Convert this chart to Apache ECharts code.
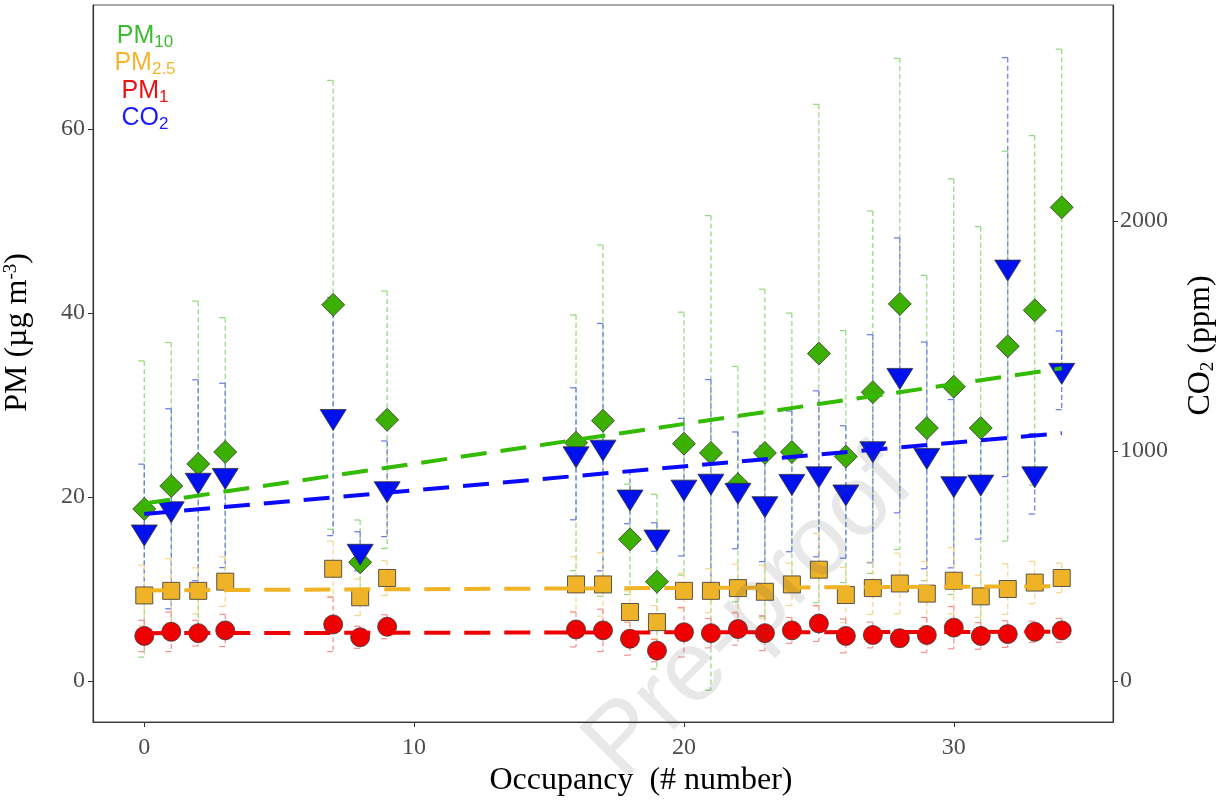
<!DOCTYPE html>
<html>
<head>
<meta charset="utf-8">
<script src="https://cdn.jsdelivr.net/npm/echarts@6/dist/echarts.min.js"></script>
<style>
html,body{margin:0;padding:0;background:#fff;}
#chart{width:1217px;height:801px;}
</style>
</head>
<body>
<div id="chart"></div>
<script>
// ---- data ----
const occupancy = [0,1,2,3,7,8,9,16,17,18,19,20,21,22,23,24,25,26,27,28,29,30,31,32,33,34];
const pm10   = [18.7,21.2,23.6,24.9,40.9,12.9,28.4,25.9,28.3,15.4,10.8,25.8,24.8,21.4,24.8,24.9,35.6,24.4,31.4,41.0,27.5,32.0,27.5,36.4,40.3,51.5];
const pm10Sd = [16.1,15.6,17.7,14.6,24.4,4.6,14.0,13.9,19.1,6.0,9.5,14.3,25.8,12.8,17.8,15.1,27.1,13.7,19.7,26.7,16.6,22.6,21.9,21.2,19.0,17.2];
const pm25   = [9.3,9.8,9.8,10.8,12.2,9.1,11.2,10.5,10.5,7.5,6.4,9.8,9.8,10.1,9.7,10.5,12.1,9.35,10.1,10.6,9.5,10.9,9.2,10.0,10.7,11.2];
const pm25Sd = [3.3,3.5,2.5,2.7,3.0,2.0,1.9,3.0,3.45,2.3,1.8,1.9,2.4,2.6,2.9,2.3,3.95,3.0,2.85,3.3,3.5,3.6,2.3,2.75,2.3,1.6];
const pm1    = [4.9,5.35,5.2,5.5,6.15,4.75,5.9,5.6,5.5,4.6,3.3,5.3,5.2,5.65,5.2,5.5,6.25,4.9,5.0,4.65,5.0,5.8,4.9,5.1,5.35,5.5];
const pm1Sd  = [1.7,2.15,1.4,1.75,2.95,1.2,1.3,1.9,2.3,1.8,1.2,2.7,1.6,1.75,1.9,1.4,1.95,1.85,1.4,0.95,1.9,2.3,1.45,1.45,1.15,1.3];
const co2    = [648,749,873,894,1150,564,836,988,1017,800,626,843,869,829,771,868,901,822,1010,1329,981,858,865,1800,901,1351];
const co2Sd  = [295,435,437,401,518,85,208,287,538,116,62,299,442,254,252,306,361,288,496,598,493,366,248,911,175,171];

// fitted trend lines (end values)
const trendX    = [0, 34];
const pm10Trend = [19.3, 34.0];
const pm25Trend = [9.85, 10.3];
const pm1Trend  = [5.2, 5.35];
const co2Trend  = [726, 1078];

// tick labels
const xTicks   = [0, 10, 20, 30];
const pmTicks  = [0, 20, 40, 60];
const co2Ticks = [0, 1000, 2000];

// ---- chart ----
const serif = 'Liberation Serif';
const sans = 'Liberation Sans';
const C = {
  pm10: '#3cb000', pm10Line: '#33bb00', pm10Err: '#8fd97a', pm10Txt: '#3dbb33',
  pm25: '#efb32a', pm25Line: '#f0b323', pm25Err: '#f6d58a', pm25Txt: '#f3b52e',
  pm1:  '#ee0000', pm1Line:  '#ee0000', pm1Err:  '#f39090', pm1Txt:  '#ee1111',
  co2:  '#0011ee', co2Line:  '#0a0aff', co2Err:  '#6677ee', co2Txt:  '#1a1aff'
};

function errData(mean, sd) {
  return occupancy.map((x, i) => [x, mean[i] - sd[i], mean[i] + sd[i]]);
}
function errSeries(mean, sd, color, yIdx) {
  return {
    type: 'custom', yAxisIndex: yIdx, z: 2, silent: true,
    data: errData(mean, sd),
    encode: { x: 0, y: [1, 2] },
    renderItem: function (params, api) {
      const x = api.value(0);
      const lo = api.coord([x, api.value(1)]);
      const hi = api.coord([x, api.value(2)]);
      const st = { stroke: color, lineWidth: 1.2 };
      return {
        type: 'group',
        children: [
          { type: 'line', shape: { x1: hi[0], y1: hi[1], x2: lo[0], y2: lo[1] },
            style: Object.assign({ lineDash: [5, 3] }, st) },
          { type: 'line', shape: { x1: hi[0] - 6, y1: hi[1], x2: hi[0], y2: hi[1] }, style: st },
          { type: 'line', shape: { x1: lo[0] - 6, y1: lo[1], x2: lo[0], y2: lo[1] }, style: st }
        ]
      };
    }
  };
}
function pts(mean) { return occupancy.map((x, i) => [x, mean[i]]); }
function trend(vals) { return trendX.map((x, i) => [x, vals[i]]); }
function trendSeries(vals, color, yIdx) {
  return {
    type: 'line', yAxisIndex: yIdx, data: trend(vals), showSymbol: false, symbol: 'none',
    z: 6, silent: true,
    lineStyle: { color: color, width: 4, type: [26, 14] }
  };
}
const markerBorder = { borderColor: '#333', borderWidth: 0.8 };

const chart = echarts.init(document.getElementById('chart'), null, { renderer: 'canvas' });

function legendText(base, sub, color, y) {
  return {
    type: 'text', x: 145, y: y, z: 100,
    style: {
      text: '{b|' + base + '}{s|' + sub + '}',
      align: 'center', verticalAlign: 'middle',
      rich: {
        b: { fontFamily: sans, fontSize: 25, lineHeight: 30, verticalAlign: 'top', fill: color },
        s: { fontFamily: sans, fontSize: 17, lineHeight: 30, verticalAlign: 'top', padding: [10, 0, 0, 0], fill: color }
      }
    }
  };
}
const noSep = function (v) { return String(v); };

const option = {
  animation: false,
  backgroundColor: '#ffffff',
  grid: { left: 93, right: 104, top: 5, bottom: 79, outerBoundsMode: 'none', containLabel: false,
          show: true, borderColor: '#555', borderWidth: 1, backgroundColor: 'transparent' },
  xAxis: {
    type: 'value', min: -1.9, max: 35.9,
    name: 'Occupancy  (# number)', nameLocation: 'middle', nameGap: 42,
    nameTextStyle: { fontFamily: serif, fontSize: 32, color: '#000', padding: [0, 0, 0, 76] },
    axisLine: { show: true, onZero: false, lineStyle: { color: '#333', width: 1.2 } },
    axisTick: { show: true, length: 5, customValues: xTicks, lineStyle: { color: '#333' } },
    axisLabel: { customValues: xTicks, formatter: noSep, fontFamily: serif, fontSize: 24, color: '#4d4d4d', margin: 14 },
    splitLine: { show: false }
  },
  yAxis: [
    {
      type: 'value', min: -4.46, max: 73.5, position: 'left',
      name: '{a|PM (µg m}{p|-3}{a|)}', nameLocation: 'middle', nameGap: 57, nameRotate: 90,
      nameTextStyle: {
        padding: [0, 0, 0, 62],
        rich: {
          a: { fontFamily: serif, fontSize: 32, color: '#000', lineHeight: 34, verticalAlign: 'top' },
          p: { fontFamily: serif, fontSize: 19, color: '#000', lineHeight: 16, verticalAlign: 'top' }
        }
      },
      axisLine: { show: true, onZero: false, lineStyle: { color: '#333', width: 1.2 } },
      axisTick: { show: true, length: 5, customValues: pmTicks, lineStyle: { color: '#333' } },
      axisLabel: { customValues: pmTicks, formatter: noSep, fontFamily: serif, fontSize: 24, color: '#4d4d4d', margin: 8 },
      splitLine: { show: false }
    },
    {
      type: 'value', min: -178.4, max: 2940, position: 'right',
      name: '{a|CO}{s|2}{a| (ppm)}', nameLocation: 'middle', nameGap: 72, nameRotate: 90,
      nameTextStyle: {
        padding: [0, 0, 0, 36],
        rich: {
          a: { fontFamily: serif, fontSize: 32, color: '#000', lineHeight: 36, verticalAlign: 'top' },
          s: { fontFamily: serif, fontSize: 19, color: '#000', lineHeight: 36, verticalAlign: 'top', padding: [14, 0, 0, 0] }
        }
      },
      axisLine: { show: true, onZero: false, lineStyle: { color: '#333', width: 1.2 } },
      axisTick: { show: true, length: 5, customValues: co2Ticks, lineStyle: { color: '#333' } },
      axisLabel: { customValues: co2Ticks, formatter: noSep, fontFamily: serif, fontSize: 24, color: '#4d4d4d', margin: 7 },
      splitLine: { show: false }
    }
  ],
  graphic: [
    legendText('PM', '10', C.pm10Txt, 38.5),
    legendText('PM', '2.5', C.pm25Txt, 65.5),
    legendText('PM', '1', C.pm1Txt, 93.5),
    legendText('CO', '2', C.co2Txt, 120.5),
    {
      type: 'text', x: 750, y: 615, rotation: Math.PI / 4, z: 200, silent: true,
      style: { text: 'Pre-proof', fontFamily: sans, fontSize: 100, fill: 'rgba(80,80,80,0.13)',
               align: 'center', verticalAlign: 'middle' }
    }
  ],
  series: [
    errSeries(pm10, pm10Sd, C.pm10Err, 0),
    errSeries(co2, co2Sd, C.co2Err, 1),
    errSeries(pm25, pm25Sd, C.pm25Err, 0),
    errSeries(pm1, pm1Sd, C.pm1Err, 0),
    { type: 'scatter', yAxisIndex: 0, data: pts(pm1), symbol: 'circle', symbolSize: 19, z: 4,
      itemStyle: Object.assign({ color: C.pm1, opacity: 1 }, markerBorder) },
    { type: 'scatter', yAxisIndex: 0, data: pts(pm25), symbol: 'rect', symbolSize: 17, z: 4,
      itemStyle: Object.assign({ color: C.pm25, opacity: 1 }, markerBorder) },
    { type: 'scatter', yAxisIndex: 0, data: pts(pm10), symbol: 'diamond', symbolSize: [23, 23], z: 4,
      itemStyle: Object.assign({ color: C.pm10, opacity: 1 }, markerBorder) },
    { type: 'scatter', yAxisIndex: 1, data: pts(co2), symbol: 'triangle', symbolRotate: 180,
      symbolSize: [26, 21], symbolOffset: [0, 3.5], z: 5,
      itemStyle: Object.assign({ color: C.co2, opacity: 1 }, markerBorder) },
    trendSeries(pm1Trend, C.pm1Line, 0),
    trendSeries(pm25Trend, C.pm25Line, 0),
    trendSeries(co2Trend, C.co2Line, 1),
    trendSeries(pm10Trend, C.pm10Line, 0)
  ]
};
chart.setOption(option);
</script>
</body>
</html>
